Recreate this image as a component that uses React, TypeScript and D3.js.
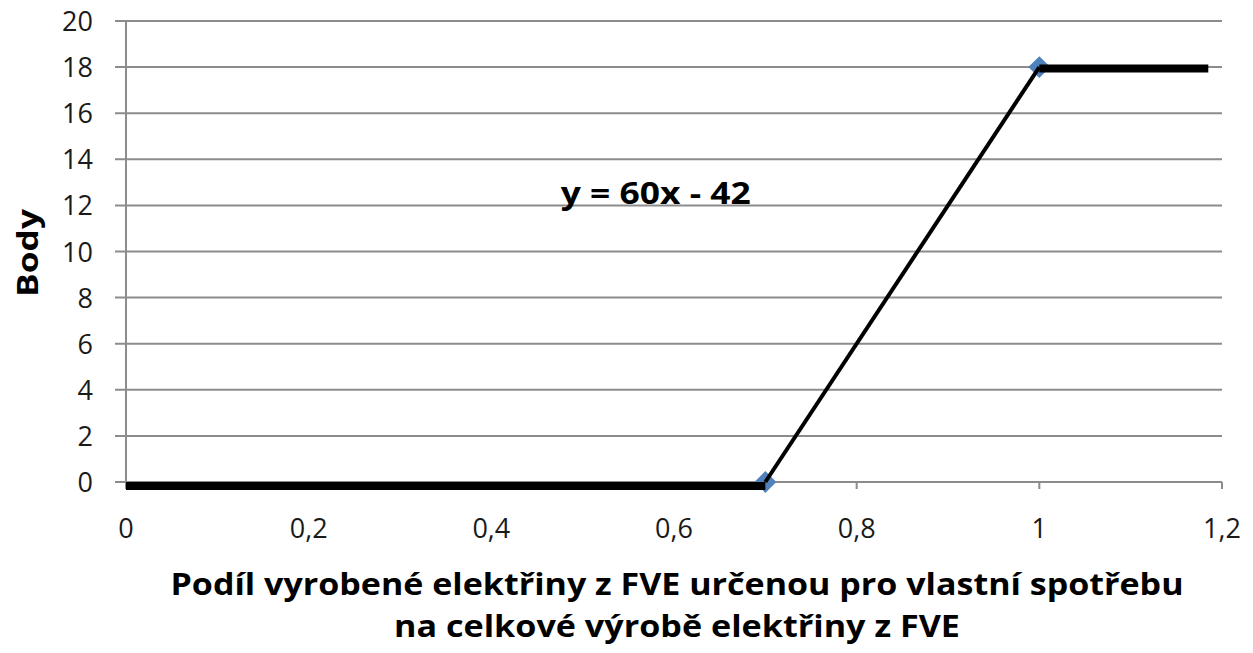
import React, { useEffect, useRef } from "react";
import * as d3 from "d3";

const xTicks = [0, 0.2, 0.4, 0.6, 0.8, 1, 1.2];
const yTicks = [0, 2, 4, 6, 8, 10, 12, 14, 16, 18, 20];
const flatLow = [
  { x: 0, y: 0 },
  { x: 0.7, y: 0 },
];
const rising = [
  { x: 0.7, y: 0 },
  { x: 1, y: 18 },
];
const flatHigh = [
  { x: 1, y: 18 },
  { x: 1.185, y: 18 },
];
const markers = [
  { x: 0.7, y: 0 },
  { x: 1, y: 18 },
];
const equationLabel = "y = 60x - 42";
const equationPos = { x: 0.476, y: 12.05 };
const yTitle = "Body";
const xTitleLines = [
  "Podíl vyrobené elektřiny z FVE určenou pro vlastní spotřebu",
  "na celkové výrobě elektřiny z FVE",
];

const W = 1253;
const H = 653;
const FONT = "'Open Sans', Lato, sans-serif";

export default function App() {
  const ref = useRef<SVGSVGElement | null>(null);

  useEffect(() => {
    const svg = d3.select(ref.current);
    svg.selectAll("*").remove();

    const x = d3.scaleLinear().domain([0, 1.2]).range([126, 1222]);
    const y = d3.scaleLinear().domain([0, 20]).range([482, 21]);

    svg
      .append("g")
      .selectAll("line")
      .data(yTicks)
      .join("line")
      .attr("x1", 115)
      .attr("x2", x(1.2))
      .attr("y1", (d) => y(d))
      .attr("y2", (d) => y(d))
      .attr("stroke", "#8c8c8c")
      .attr("stroke-width", 2);

    svg
      .append("line")
      .attr("x1", x(0))
      .attr("x2", x(0))
      .attr("y1", y(20))
      .attr("y2", y(0) + 7)
      .attr("stroke", "#8c8c8c")
      .attr("stroke-width", 2);

    svg
      .append("g")
      .selectAll("line")
      .data(xTicks)
      .join("line")
      .attr("x1", (d) => x(d))
      .attr("x2", (d) => x(d))
      .attr("y1", y(0))
      .attr("y2", y(0) + 7)
      .attr("stroke", "#8c8c8c")
      .attr("stroke-width", 2);

    svg
      .append("g")
      .selectAll("text")
      .data(yTicks)
      .join("text")
      .attr("x", 93)
      .attr("y", (d) => y(d) + 10)
      .attr("text-anchor", "end")
      .attr("font-family", FONT)
      .attr("font-size", 27)
      .attr("fill", "#1a1a1a")
      .text((d) => String(d));

    svg
      .append("g")
      .selectAll("text")
      .data(xTicks)
      .join("text")
      .attr("x", (d) => x(d))
      .attr("y", 538)
      .attr("text-anchor", "middle")
      .attr("font-family", FONT)
      .attr("font-size", 27)
      .attr("fill", "#1a1a1a")
      .text((d) => String(d).replace(".", ","));

    const line = d3
      .line<{ x: number; y: number }>()
      .x((d) => x(d.x))
      .y((d) => y(d.y));

    svg
      .append("g")
      .selectAll("path")
      .data(markers)
      .join("path")
      .attr("d", d3.symbol().type(d3.symbolSquare).size(240)())
      .attr("transform", (d) => `translate(${x(d.x)},${y(d.y)}) rotate(45)`)
      .attr("fill", "#4f81bd");

    svg
      .append("path")
      .attr("d", line(rising))
      .attr("fill", "none")
      .attr("stroke", "#000")
      .attr("stroke-width", 4);

    svg
      .append("path")
      .attr("d", line(flatLow))
      .attr("transform", "translate(0,4)")
      .attr("fill", "none")
      .attr("stroke", "#000")
      .attr("stroke-width", 8);

    svg
      .append("path")
      .attr("d", line(flatHigh))
      .attr("transform", "translate(0,1.5)")
      .attr("fill", "none")
      .attr("stroke", "#000")
      .attr("stroke-width", 8);

    svg
      .append("text")
      .attr("x", x(equationPos.x))
      .attr("y", y(equationPos.y))
      .attr("font-family", FONT)
      .attr("font-weight", "bold")
      .attr("font-size", 31)
      .attr("textLength", 190)
      .attr("lengthAdjust", "spacingAndGlyphs")
      .attr("fill", "#000")
      .text(equationLabel);

    svg
      .append("text")
      .attr("transform", `translate(38,${253}) rotate(-90)`)
      .attr("text-anchor", "middle")
      .attr("font-family", FONT)
      .attr("font-weight", "bold")
      .attr("font-size", 29)
      .attr("textLength", 88)
      .attr("lengthAdjust", "spacingAndGlyphs")
      .attr("fill", "#000")
      .text(yTitle);

    const titleLens = [1013, 566];
    svg
      .append("g")
      .selectAll("text")
      .data(xTitleLines)
      .join("text")
      .attr("x", 677)
      .attr("y", (_, i) => 595 + i * 42)
      .attr("text-anchor", "middle")
      .attr("font-family", FONT)
      .attr("font-weight", "bold")
      .attr("font-size", 30)
      .attr("textLength", (_, i) => titleLens[i])
      .attr("lengthAdjust", "spacingAndGlyphs")
      .attr("fill", "#000")
      .text((d) => d);
  }, []);

  return (
    <div style={{ position: "fixed", left: 0, top: 0, width: W, height: H, background: "#fff" }}>
      <svg ref={ref} width={W} height={H} />
    </div>
  );
}
